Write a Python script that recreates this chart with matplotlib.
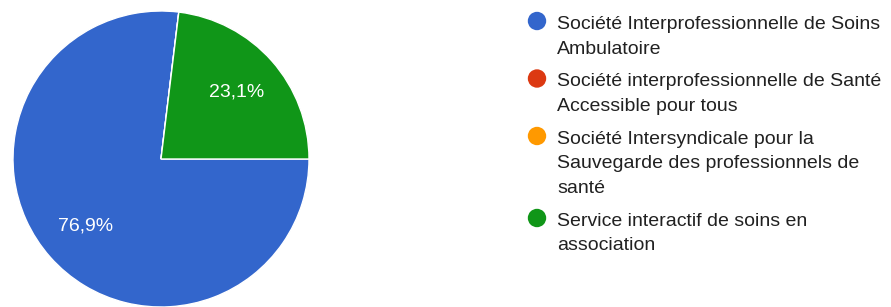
import matplotlib
matplotlib.use("Agg")
import matplotlib.pyplot as plt
from matplotlib.patches import Circle

# Data
categories = [
    "Société Interprofessionnelle de Soins Ambulatoire",
    "Société interprofessionnelle de Santé Accessible pour tous",
    "Société Intersyndicale pour la Sauvegarde des professionnels de santé",
    "Service interactif de soins en association",
]
legend_lines = [
    ["Société Interprofessionnelle de Soins", "Ambulatoire"],
    ["Société interprofessionnelle de Santé", "Accessible pour tous"],
    ["Société Intersyndicale pour la", "Sauvegarde des professionnels de", "santé"],
    ["Service interactif de soins en", "association"],
]
values = [10, 0, 0, 3]
colors = ["#3366cc", "#dc3912", "#ff9900", "#109618"]

W, H = 891, 307
fig = plt.figure(figsize=(W / 100, H / 100), dpi=100)
ax = fig.add_axes([0, 0, 1, 1])
ax.set_xlim(0, W)
ax.set_ylim(0, H)
ax.set_aspect("equal")
ax.axis("off")

FONT = "Liberation Sans"


def pct(p):
    if p <= 0:
        return ""
    return f"{p:.1f}".replace(".", ",") + "%"


wedges, texts, autotexts = ax.pie(
    values,
    colors=colors,
    startangle=0,
    counterclock=False,
    center=(161, H - 159),
    radius=148,
    autopct=pct,
    pctdistance=0.68,
    wedgeprops=dict(edgecolor="white", linewidth=1),
    textprops=dict(color="white", fontsize=14, family=FONT),
    frame=True,
)
ax.set_xlim(0, W)
ax.set_ylim(0, H)
ax.axis("off")

# Legend
x_circle = 537
x_text = 557
line_sp = 24.5
item_gap = 33
baseline = 29
for lines, col in zip(legend_lines, colors):
    ax.add_patch(Circle((x_circle, H - (baseline - 8)), 9.2, color=col, lw=0))
    for i, ln in enumerate(lines):
        ax.text(x_text, H - (baseline + i * line_sp), ln, fontsize=14,
                family=FONT, color="#212121", va="baseline", ha="left")
    baseline = baseline + (len(lines) - 1) * line_sp + item_gap

fig.savefig("out.png", dpi=100)
